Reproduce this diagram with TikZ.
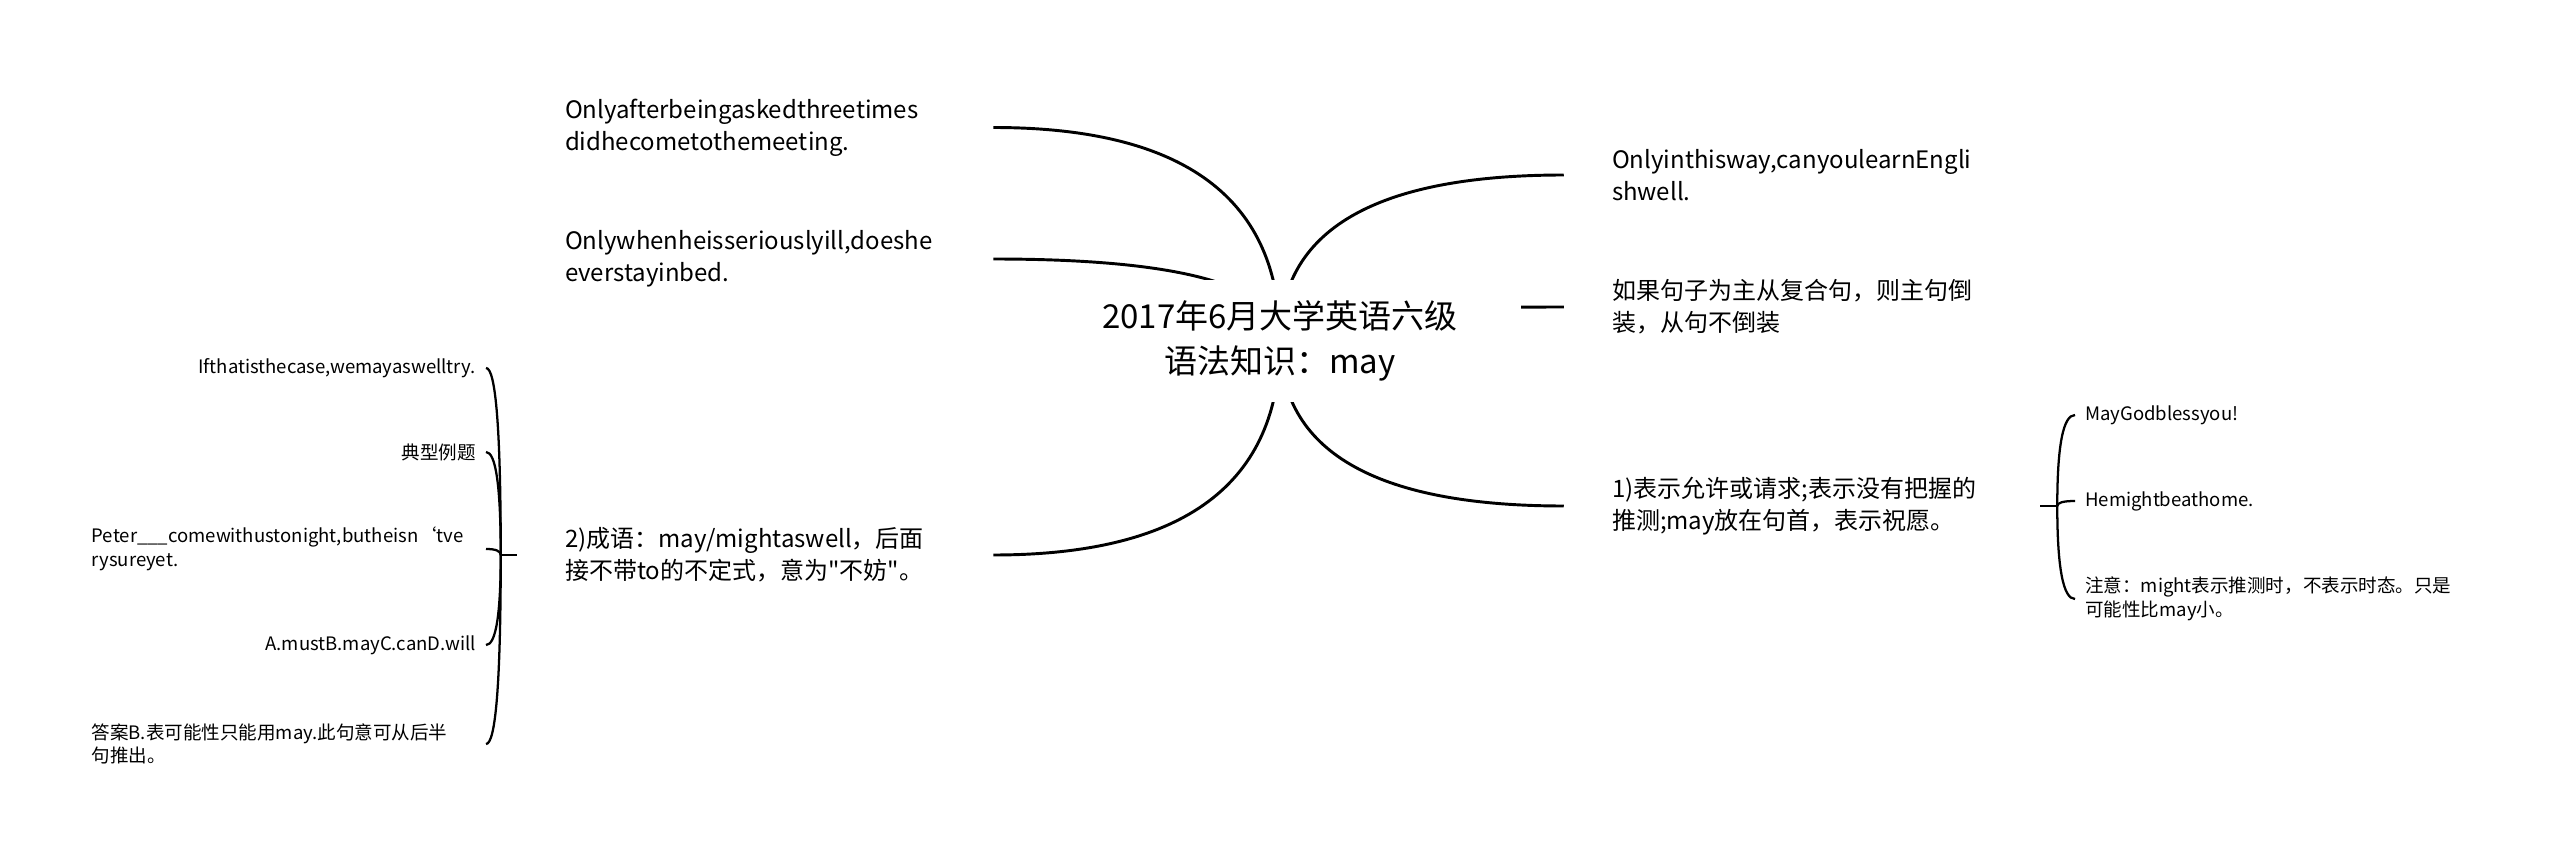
\documentclass[tikz,border=0pt]{standalone}
\usepackage{fontspec}
\setmainfont{Noto Sans CJK SC}[Ligatures=TeXOff]
\usetikzlibrary{calc}
\pgfdeclarelayer{bg}
\pgfsetlayers{bg,main}
\begin{document}
\begin{tikzpicture}[x=0.75pt,y=-0.75pt,
  conn/.style={line width=2.2pt, black},
  brace/.style={line width=1.7pt, black},
  qc/.style={to path={.. controls ($(\tikztostart)!0.6667!(\tikztostart |- \tikztotarget)$) and ($(\tikztotarget)!0.6667!(\tikztostart |- \tikztotarget)$) .. (\tikztotarget)}},
  rootnode/.style={fill=white, minimum width=361.5pt, minimum height=91.5pt, align=center, inner sep=0pt, font=\fontsize{24.75pt}{33.75pt}\selectfont},
  branch/.style={text width=285pt, align=left, inner xsep=36pt, inner ysep=0pt, font=\fontsize{18pt}{24pt}\selectfont},
  leaf/.style={align=left, inner xsep=7.5pt, inner ysep=0pt, font=\fontsize{13.9pt}{17.6pt}\selectfont},
]
\useasboundingbox (0,0) rectangle (2560,859);
\begin{pgfonlayer}{bg}
\fill[white] (0,0) rectangle (2560,859);
\end{pgfonlayer}

% root
\node[rootnode] (root) at (1280,341) {2017年6月大学英语六级\\语法知识：may};

% left branches
\node[branch] (n1) at (755,127.5) {Onlyafterbeingaskedthreetimes\\didhecometothemeeting.};
\node[branch] (n2) at (755,259) {Onlywhenheisseriouslyill,doeshe\\everstayinbed.};
\node[branch] (n4) at (755,555) {2)成语：may/mightaswell，后面\\接不带to的不定式，意为"不妨"。};

% right branches
\node[branch] (n3) at (1802,175) {Onlyinthisway,canyoulearnEngli\\shwell.};
\node[branch] (n5) at (1802,307) {如果句子为主从复合句，则主句倒\\装，从句不倒装};
\node[branch] (n6) at (1802,506) {1)表示允许或请求;表示没有把握的\\推测;may放在句首，表示祝愿。};

% left leaves
\node[leaf, anchor=east] (a1) at (486,368) {Ifthatisthecase,wemayaswelltry.};
\node[leaf, anchor=east] (a2) at (486,452) {典型例题};
\node[leaf, anchor=east, text width=288pt] (a3) at (486,549) {Peter\_\_\_comewithustonight,butheisn‘tve\\rysureyet.};
\node[leaf, anchor=east] (a4) at (486,645) {A.mustB.mayC.canD.will};
\node[leaf, anchor=east, text width=288pt] (a5) at (486,744) {答案B.表可能性只能用may.此句意可从后半\\句推出。};

% right leaves
\node[leaf, anchor=west] (b1) at (2075,415) {MayGodblessyou!};
\node[leaf, anchor=west] (b2) at (2075,501) {Hemightbeathome.};
\node[leaf, anchor=west] (b3) at (2075,599) {注意：might表示推测时，不表示时态。只是\\可能性比may小。};

\coordinate (jl) at ($(n4.west)+(-16,0)$);
\coordinate (jr) at ($(n6.east)+(17,0)$);

\begin{pgfonlayer}{bg}
\draw[conn] (root.center) to[qc] (n1.east);
\draw[conn] (root.center) to[qc] (n2.east);
\draw[conn] (root.center) to[qc] (n4.east);
\draw[conn] (root.center) to[qc] (n3.west);
\draw[conn] (root.center) to[qc] (n5.west);
\draw[conn] (root.center) to[qc] (n6.west);
\end{pgfonlayer}

\draw[brace] (n4.west) -- (jl);
\draw[brace] (jl) to[qc] (a1.east);
\draw[brace] (jl) to[qc] (a2.east);
\draw[brace] (jl) to[qc] (a3.east);
\draw[brace] (jl) to[qc] (a4.east);
\draw[brace] (jl) to[qc] (a5.east);

\draw[brace] (n6.east) -- (jr);
\draw[brace] (jr) to[qc] (b1.west);
\draw[brace] (jr) to[qc] (b2.west);
\draw[brace] (jr) to[qc] (b3.west);
\end{tikzpicture}
\end{document}
